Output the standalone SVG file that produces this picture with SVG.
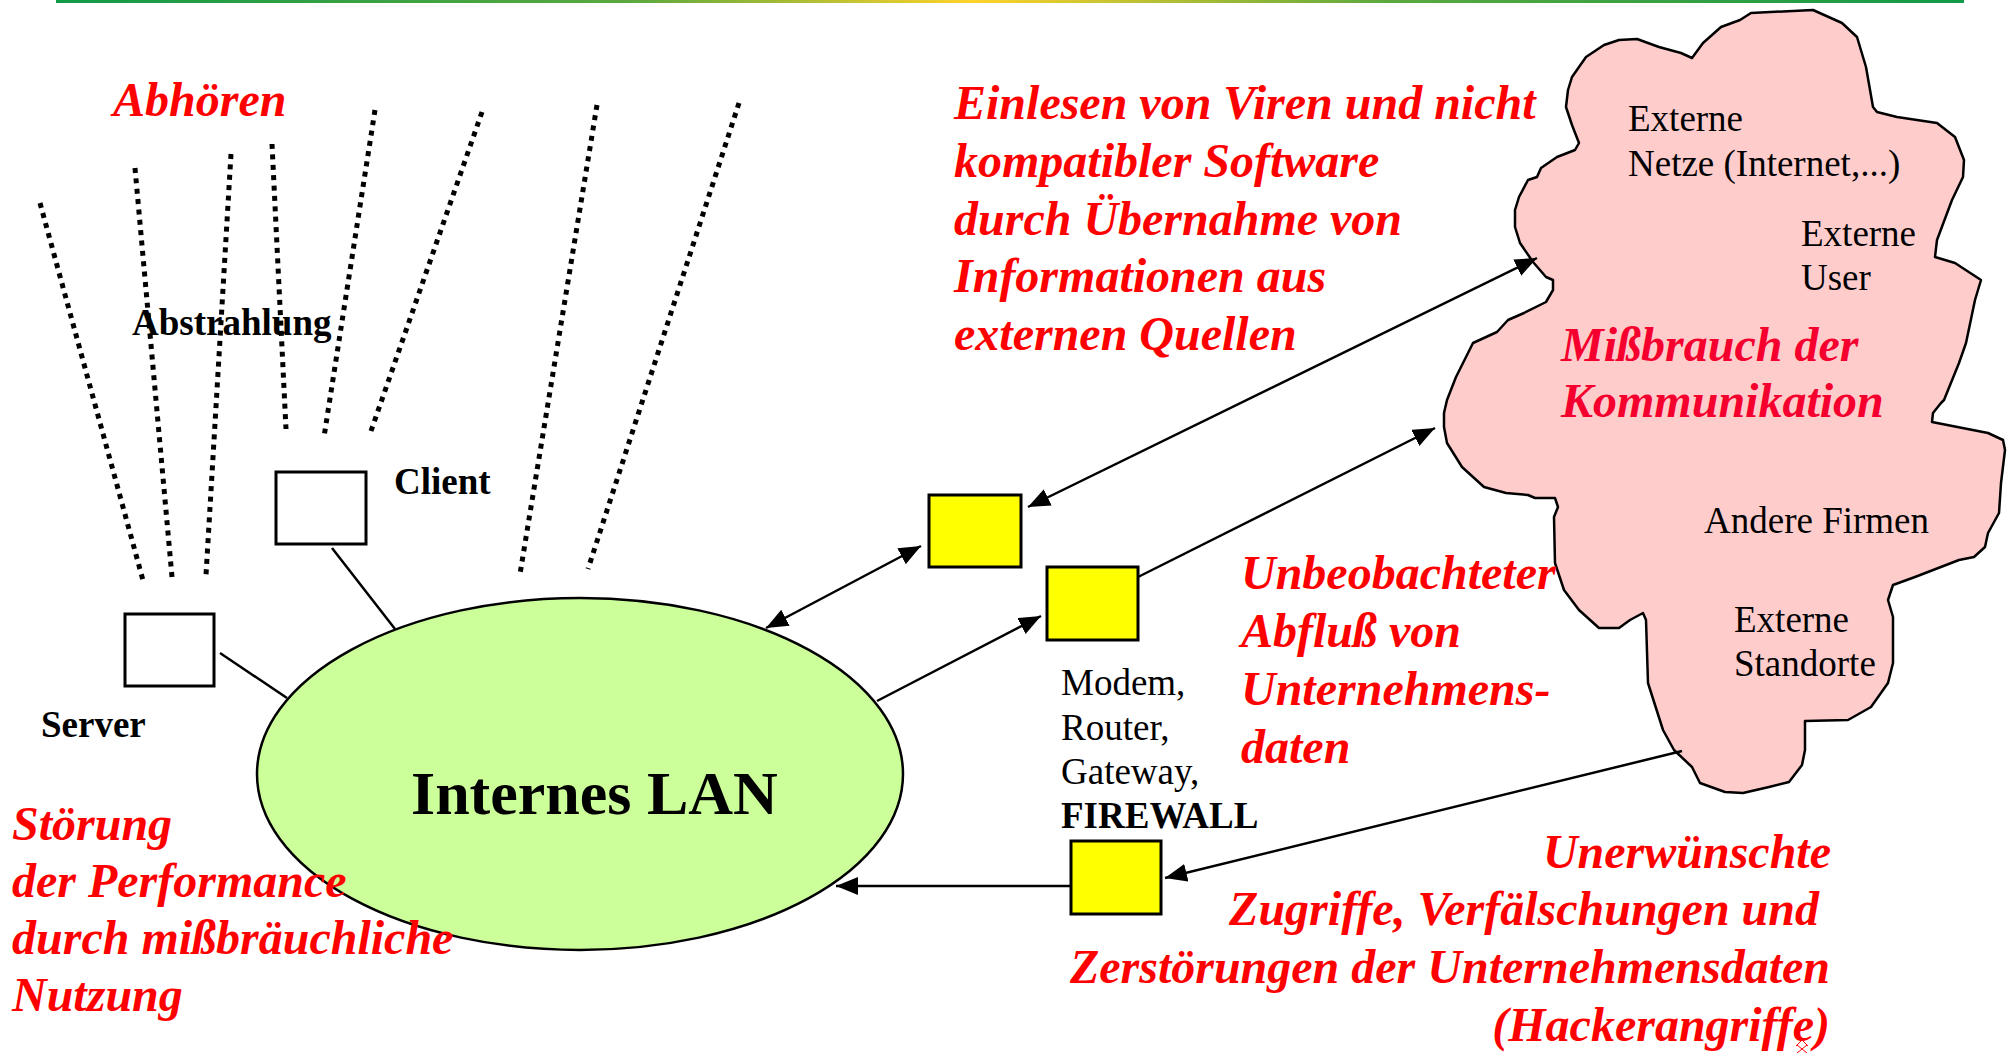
<svg xmlns="http://www.w3.org/2000/svg" width="2013" height="1053" viewBox="0 0 2013 1053">
  <defs>
    <linearGradient id="barGrad" x1="0" y1="0" x2="1" y2="0">
      <stop offset="0" stop-color="#119a48"/>
      <stop offset="0.3" stop-color="#5aa83e"/>
      <stop offset="0.48" stop-color="#ffd22c"/>
      <stop offset="0.7" stop-color="#5aa83e"/>
      <stop offset="1" stop-color="#119a48"/>
    </linearGradient>
    <marker id="arrow" markerUnits="userSpaceOnUse" markerWidth="24" markerHeight="20" refX="22" refY="9" orient="auto-start-reverse">
      <path d="M0,0 L22,9 L0,18 Z" fill="#000"/>
    </marker>
  </defs>
  <style>
    .red { font-family: "Liberation Serif", "Times New Roman", serif; font-size: 48px; font-weight: bold; font-style: italic; fill: #ff0000; }
    .lbl { font-family: "Liberation Serif", "Times New Roman", serif; font-size: 37px; fill: #000; }
    .bold { font-weight: bold; }
    .box { fill: #fff; stroke: #000; stroke-width: 3; }
    .dev { fill: #ffff00; stroke: #000; stroke-width: 3; }
    .wave { stroke: #000; stroke-width: 5; stroke-dasharray: 5 5.4; fill: none; }
    .link { stroke: #000; stroke-width: 2.5; fill: none; }
  </style>

  <rect width="2013" height="1053" fill="#fff"/>
  <!-- header rule -->
  <rect x="56" y="0" width="1908" height="3" fill="url(#barGrad)"/>

  <!-- external world cloud -->
  <g id="cloud">
    <path d="M1751,13 L1813,10 L1842,23 L1857,37 L1866,67 L1873,107 L1877,112 L1897,117 L1937,123 L1955,137 L1964,160 L1963,177 L1952,200 L1937,240 L1935,257 L1955,263 L1981,280 L1975,300 L1966,343 L1959,363 L1944,400 L1941,403 L1933,413 L1932,422 L1988,433 L2003,440 L2005,450 L2001,483 L1999,513 L1988,533 L1985,547 L1974,557 L1959,560 L1915,577 L1893,585 L1888,600 L1893,617 L1893,663 L1888,683 L1871,707 L1848,720 L1805,721 L1805,750 L1802,765 L1789,782 L1769,787 L1743,793 L1725,792 L1700,783 L1692,767 L1674,750 L1663,730 L1648,683 L1646,620 L1643,613 L1630,620 L1619,628 L1599,628 L1579,610 L1564,590 L1555,563 L1554,517 L1558,507 L1555,498 L1535,498 L1528,495 L1506,493 L1484,487 L1462,467 L1447,443 L1444,427 L1444,413 L1447,400 L1456,377 L1473,343 L1497,332 L1508,320 L1524,313 L1546,302 L1553,290 L1553,280 L1546,277 L1533,262 L1520,243 L1515,227 L1515,210 L1519,197 L1528,180 L1537,177 L1541,168 L1557,157 L1575,150 L1579,143 L1572,125 L1566,107 L1568,90 L1572,77 L1586,57 L1604,45 L1619,40 L1637,39 L1659,47 L1681,53 L1692,58 L1703,43 L1721,27 L1740,20 Z" fill="#ffcccc" stroke="#000" stroke-width="2.5" stroke-linejoin="round"/>
    <text class="lbl" x="1628" y="131">Externe</text>
    <text class="lbl" x="1628" y="176">Netze (Internet,...)</text>
    <text class="lbl" x="1801" y="246">Externe</text>
    <text class="lbl" x="1801" y="290">User</text>
    <text class="red" x="1561" y="361" style="fill:#f5002e">Mißbrauch der</text>
    <text class="red" x="1561" y="417" style="fill:#f5002e">Kommunikation</text>
    <text class="lbl" x="1704" y="533">Andere Firmen</text>
    <text class="lbl" x="1734" y="632">Externe</text>
    <text class="lbl" x="1734" y="676">Standorte</text>
  </g>

  <!-- radiation label sits under the dotted rays -->
  <text class="lbl bold" x="132" y="335">Abstrahlung</text>

  <!-- dotted radiation rays -->
  <g id="radiation">
    <line class="wave" x1="40" y1="203" x2="144" y2="584"/>
    <line class="wave" x1="135" y1="168" x2="172" y2="577"/>
    <line class="wave" x1="231" y1="154" x2="206" y2="575"/>
    <line class="wave" x1="272" y1="144" x2="286" y2="429"/>
    <line class="wave" x1="375" y1="110" x2="324" y2="437"/>
    <line class="wave" x1="482" y1="112" x2="371" y2="431"/>
    <line class="wave" x1="597" y1="105" x2="520" y2="574"/>
    <line class="wave" x1="739" y1="103" x2="588" y2="569"/>
  </g>

  <!-- connectors -->
  <g id="connectors">
    <line class="link" x1="220" y1="653" x2="287" y2="698"/>
    <line class="link" x1="332" y1="548" x2="395" y2="629"/>
    <line class="link" x1="766" y1="628" x2="921" y2="546" marker-start="url(#arrow)" marker-end="url(#arrow)"/>
    <line class="link" x1="1028" y1="507" x2="1537" y2="258" marker-start="url(#arrow)" marker-end="url(#arrow)"/>
    <line class="link" x1="877" y1="701" x2="1041" y2="616" marker-end="url(#arrow)"/>
    <line class="link" x1="1138" y1="577" x2="1435" y2="428" marker-end="url(#arrow)"/>
    <line class="link" x1="1682" y1="751" x2="1165" y2="878" marker-end="url(#arrow)"/>
    <line class="link" x1="1071" y1="886" x2="836" y2="886" marker-end="url(#arrow)"/>
  </g>

  <!-- internal LAN -->
  <g id="lan">
    <ellipse cx="580" cy="774" rx="323" ry="176" fill="#ccff99" stroke="#000" stroke-width="2.5"/>
    <text x="411" y="814" style="font-family:'Liberation Serif','Times New Roman',serif;font-size:62px;font-weight:bold;fill:#000">Internes LAN</text>
  </g>

  <g id="server">
    <rect class="box" x="125" y="614" width="89" height="72"/>
    <text class="lbl bold" x="41" y="737">Server</text>
  </g>

  <g id="client">
    <rect class="box" x="276" y="472" width="90" height="72"/>
    <text class="lbl bold" x="394" y="494">Client</text>
  </g>

  <g id="gateway-a">
    <rect class="dev" x="929" y="495" width="92" height="72"/>
  </g>

  <g id="gateway-b">
    <rect class="dev" x="1047" y="567" width="91" height="73"/>
    <text class="lbl" x="1061" y="695">Modem,</text>
    <text class="lbl" x="1061" y="740">Router,</text>
    <text class="lbl" x="1061" y="784">Gateway,</text>
    <text class="lbl bold" x="1061" y="828">FIREWALL</text>
  </g>

  <g id="gateway-c">
    <rect class="dev" x="1071" y="841" width="90" height="73"/>
  </g>

  <!-- threat captions -->
  <g id="threats">
    <text class="red" x="113" y="116">Abhören</text>

    <text class="red" x="954" y="119">Einlesen von Viren und nicht</text>
    <text class="red" x="954" y="177">kompatibler Software</text>
    <text class="red" x="954" y="235">durch Übernahme von</text>
    <text class="red" x="954" y="292">Informationen aus</text>
    <text class="red" x="954" y="350">externen Quellen</text>

    <text class="red" x="1241" y="589">Unbeobachteter</text>
    <text class="red" x="1241" y="647">Abfluß von</text>
    <text class="red" x="1241" y="705">Unternehmens-</text>
    <text class="red" x="1241" y="763">daten</text>

    <text class="red" x="12" y="840">Störung</text>
    <text class="red" x="12" y="897">der Performance</text>
    <text class="red" x="12" y="954">durch mißbräuchliche</text>
    <text class="red" x="12" y="1011">Nutzung</text>

    <text class="red" x="1831" y="868" text-anchor="end">Unerwünschte</text>
    <text class="red" x="1819" y="925" text-anchor="end">Zugriffe, Verfälschungen und</text>
    <text class="red" x="1830" y="983" text-anchor="end">Zerstörungen der Unternehmensdaten</text>
    <text class="red" x="1830" y="1041" text-anchor="end">(Hackerangriffe)</text>
    <!-- small anchor tick under the last line -->
    <path d="M1796,1046 L1802,1040 L1808,1046 M1797,1053 L1807,1045 M1797,1045 L1807,1053" stroke="#ff0000" stroke-width="1" fill="none"/>
  </g>
</svg>
